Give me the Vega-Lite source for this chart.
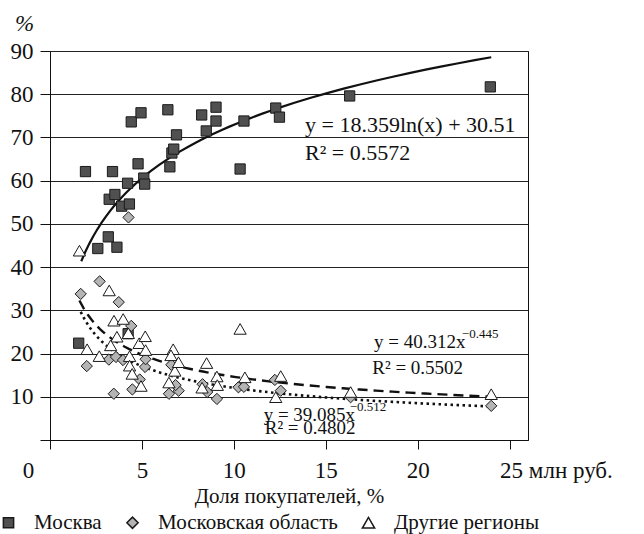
{
  "$schema": "https://vega.github.io/schema/vega-lite/v6.json",
  "width": 478,
  "height": 389,
  "autosize": "none",
  "padding": {"left": 50, "top": 51, "right": 116, "bottom": 94},
  "background": "white",
  "config": {
    "font": "Liberation Serif",
    "view": {"stroke": "#111", "strokeWidth": 1},
    "legend": {"labelFont": "Liberation Serif", "titleFont": "Liberation Serif"},
    "axis": {"labelFont": "Liberation Serif", "titleFont": "Liberation Serif", "labelColor": "#111", "titleColor": "#111", "domainColor": "#111", "tickColor": "#111", "gridColor": "#222", "titleFontWeight": "normal"}
  },
  "datasets": {
    "pts": [
      {"s": "Москва", "x": 1.93, "y": 62.1},
      {"s": "Москва", "x": 3.4, "y": 62.1},
      {"s": "Москва", "x": 2.6, "y": 44.3},
      {"s": "Москва", "x": 3.17, "y": 47.0},
      {"s": "Москва", "x": 3.64, "y": 44.6},
      {"s": "Москва", "x": 3.22, "y": 55.7},
      {"s": "Москва", "x": 3.53, "y": 56.8},
      {"s": "Москва", "x": 3.9, "y": 54.1},
      {"s": "Москва", "x": 4.32, "y": 54.6},
      {"s": "Москва", "x": 4.22, "y": 59.4},
      {"s": "Москва", "x": 4.42, "y": 73.6},
      {"s": "Москва", "x": 4.95, "y": 75.7},
      {"s": "Москва", "x": 4.79, "y": 63.9},
      {"s": "Москва", "x": 5.1, "y": 60.6},
      {"s": "Москва", "x": 5.15, "y": 59.2},
      {"s": "Москва", "x": 6.41, "y": 76.4},
      {"s": "Москва", "x": 6.52, "y": 63.2},
      {"s": "Москва", "x": 6.63, "y": 66.4},
      {"s": "Москва", "x": 6.73, "y": 67.3},
      {"s": "Москва", "x": 6.88, "y": 70.6},
      {"s": "Москва", "x": 8.25, "y": 75.2},
      {"s": "Москва", "x": 8.5, "y": 71.5},
      {"s": "Москва", "x": 9.03, "y": 77.0},
      {"s": "Москва", "x": 9.03, "y": 73.8},
      {"s": "Москва", "x": 10.55, "y": 73.8},
      {"s": "Москва", "x": 10.34, "y": 62.7},
      {"s": "Москва", "x": 12.28, "y": 76.8},
      {"s": "Москва", "x": 12.48, "y": 74.7},
      {"s": "Москва", "x": 16.3, "y": 79.6},
      {"s": "Москва", "x": 23.95, "y": 81.7},
      {"s": "Москва", "x": 1.56, "y": 22.4},
      {"s": "Москва", "x": 4.25, "y": 24.6},
      {"s": "Московская область", "x": 1.67, "y": 33.8},
      {"s": "Московская область", "x": 2.7, "y": 36.7},
      {"s": "Московская область", "x": 3.74, "y": 31.9},
      {"s": "Московская область", "x": 2.0, "y": 17.1},
      {"s": "Московская область", "x": 3.2, "y": 18.6},
      {"s": "Московская область", "x": 3.59, "y": 19.2},
      {"s": "Московская область", "x": 3.97, "y": 18.5},
      {"s": "Московская область", "x": 4.42, "y": 26.4},
      {"s": "Московская область", "x": 3.47, "y": 10.7},
      {"s": "Московская область", "x": 4.48, "y": 11.7},
      {"s": "Московская область", "x": 4.88, "y": 14.0},
      {"s": "Московская область", "x": 5.17, "y": 16.9},
      {"s": "Московская область", "x": 5.2, "y": 18.7},
      {"s": "Московская область", "x": 6.47, "y": 10.7},
      {"s": "Московская область", "x": 6.6, "y": 17.4},
      {"s": "Московская область", "x": 7.0, "y": 11.4},
      {"s": "Московская область", "x": 6.83, "y": 12.7},
      {"s": "Московская область", "x": 8.3, "y": 12.9},
      {"s": "Московская область", "x": 8.55, "y": 11.1},
      {"s": "Московская область", "x": 9.08, "y": 9.5},
      {"s": "Московская область", "x": 4.27, "y": 51.5},
      {"s": "Московская область", "x": 10.25, "y": 12.2},
      {"s": "Московская область", "x": 10.55, "y": 12.3},
      {"s": "Московская область", "x": 12.23, "y": 13.9},
      {"s": "Московская область", "x": 12.55, "y": 11.4},
      {"s": "Московская область", "x": 16.35, "y": 9.9},
      {"s": "Московская область", "x": 24.0, "y": 7.9},
      {"s": "Другие регионы", "x": 1.6, "y": 43.8},
      {"s": "Другие регионы", "x": 2.02, "y": 21.0},
      {"s": "Другие регионы", "x": 2.68, "y": 19.4},
      {"s": "Другие регионы", "x": 3.22, "y": 34.6},
      {"s": "Другие регионы", "x": 3.48, "y": 27.6},
      {"s": "Другие регионы", "x": 3.98, "y": 28.0},
      {"s": "Другие регионы", "x": 3.64, "y": 23.9},
      {"s": "Другие регионы", "x": 3.3, "y": 21.9},
      {"s": "Другие регионы", "x": 4.26, "y": 24.7},
      {"s": "Другие регионы", "x": 4.33, "y": 19.4},
      {"s": "Другие регионы", "x": 4.33, "y": 17.2},
      {"s": "Другие регионы", "x": 4.47, "y": 15.3},
      {"s": "Другие регионы", "x": 4.95, "y": 12.5},
      {"s": "Другие регионы", "x": 4.85, "y": 22.4},
      {"s": "Другие регионы", "x": 5.18, "y": 24.0},
      {"s": "Другие регионы", "x": 5.2, "y": 20.8},
      {"s": "Другие регионы", "x": 6.7, "y": 21.0},
      {"s": "Другие регионы", "x": 6.58, "y": 19.6},
      {"s": "Другие регионы", "x": 6.79, "y": 16.0},
      {"s": "Другие регионы", "x": 6.99, "y": 18.0},
      {"s": "Другие регионы", "x": 6.47, "y": 13.3},
      {"s": "Другие регионы", "x": 8.52, "y": 17.8},
      {"s": "Другие регионы", "x": 8.27, "y": 12.1},
      {"s": "Другие регионы", "x": 9.08, "y": 14.7},
      {"s": "Другие регионы", "x": 9.1, "y": 12.7},
      {"s": "Другие регионы", "x": 10.34, "y": 25.7},
      {"s": "Другие регионы", "x": 10.6, "y": 14.5},
      {"s": "Другие регионы", "x": 12.55, "y": 14.8},
      {"s": "Другие регионы", "x": 12.28, "y": 9.9},
      {"s": "Другие регионы", "x": 16.35, "y": 11.1},
      {"s": "Другие регионы", "x": 24.0, "y": 10.6}
    ],
    "notes": [
      {"k": "big", "t": "y = 18.359ln(x) + 30.51", "x": 13.87, "y": 72.9},
      {"k": "big", "t": "R² = 0.5572", "x": 13.87, "y": 66.4},
      {"k": "mid", "t": "y = 40.312x", "x": 17.63, "y": 22.7},
      {"k": "mid", "t": "R² = 0.5502", "x": 17.53, "y": 16.7},
      {"k": "mid", "t": "y = 39.085x", "x": 11.62, "y": 5.8},
      {"k": "mid", "t": "R² = 0.4802", "x": 11.68, "y": 2.8},
      {"k": "sup", "t": "−0.445", "x": 22.4, "y": 24.5},
      {"k": "sup", "t": "−0.512", "x": 16.3, "y": 7.6}
    ]
  },
  "layer": [
    {
      "data": {"name": "pts"},
      "transform": [
        {"filter": "datum.s == 'Москва'"},
        {"regression": "y", "on": "x", "method": "log", "extent": [1.7, 24]}
      ],
      "mark": {"type": "line", "color": "#111", "strokeWidth": 2.2},
      "encoding": {
        "x": {"field": "x", "type": "quantitative", "scale": {"domain": [0, 25]},
          "axis": {"values": [0, 5, 10, 15, 20, 25], "title": "Доля покупателей, %", "titleFont": "Liberation Serif", "labelFont": "Liberation Serif", "titleFontSize": 21, "titleY": 56, "titleBaseline": "middle", "labelFontSize": 23, "tickSize": 9, "labelPadding": 10, "grid": false, "labelLimit": 300,
            "labelExpr": "datum.value == 25 ? '25 млн руб.' : datum.label",
            "labelAlign": {"condition": {"test": "datum.value == 25", "value": "left"}, "value": "center"},
            "labelOffset": {"condition": [{"test": "datum.value == 25", "value": -10}, {"test": "datum.value == 0", "value": -22}], "value": 0}}},
        "y": {"field": "y", "type": "quantitative", "scale": {"domain": [0, 90]},
          "axis": {"values": [0, 10, 20, 30, 40, 50, 60, 70, 80, 90], "title": "%", "titleFont": "Liberation Serif", "labelFont": "Liberation Serif", "titleAngle": 0, "titleFontStyle": "italic", "titleFontSize": 23, "titleX": -26, "titleY": -28, "titleAlign": "center", "titleBaseline": "middle", "labelFontSize": 23, "tickSize": 10, "labelPadding": 7, "grid": true, "gridWidth": 1,
            "labelExpr": "datum.value == 0 ? '' : datum.label"}}
      }
    },
    {
      "data": {"name": "pts"},
      "transform": [
        {"filter": "datum.s == 'Другие регионы'"},
        {"regression": "y", "on": "x", "method": "pow", "extent": [1.6, 24]}
      ],
      "mark": {"type": "line", "color": "#111", "strokeWidth": 2.4, "strokeDash": [10, 6]},
      "encoding": {"x": {"field": "x", "type": "quantitative"}, "y": {"field": "y", "type": "quantitative"}}
    },
    {
      "data": {"name": "pts"},
      "transform": [
        {"filter": "datum.s == 'Московская область'"},
        {"regression": "y", "on": "x", "method": "pow", "extent": [1.67, 24]}
      ],
      "mark": {"type": "line", "color": "#111", "strokeWidth": 2.6, "strokeDash": [2.5, 3.5]},
      "encoding": {"x": {"field": "x", "type": "quantitative"}, "y": {"field": "y", "type": "quantitative"}}
    },
    {
      "data": {"name": "pts"},
      "mark": {"type": "point", "filled": true, "stroke": "#1a1a1a", "strokeWidth": 1, "opacity": 1},
      "encoding": {
        "x": {"field": "x", "type": "quantitative"},
        "y": {"field": "y", "type": "quantitative"},
        "color": {"field": "s", "type": "nominal", "sort": ["Москва", "Московская область", "Другие регионы"], "title": null,
          "scale": {"domain": ["Москва", "Московская область", "Другие регионы"], "range": ["#505050", "#b4b4b4", "#ffffff"]},
          "legend": {"orient": "none", "legendX": -52, "legendY": 461, "padding": 0, "direction": "horizontal", "labelFont": "Liberation Serif", "labelFontSize": 21, "labelColor": "#111", "labelLimit": 400, "symbolSize": 70, "labelOffset": 15, "columnPadding": 20, "symbolOpacity": 1,
            "encode": {"symbols": {"update": {"stroke": {"value": "#1a1a1a"}, "strokeWidth": {"value": 1}}}}}},
        "shape": {"field": "s", "type": "nominal", "sort": ["Москва", "Московская область", "Другие регионы"], "title": null,
          "scale": {"domain": ["Москва", "Московская область", "Другие регионы"], "range": ["square", "diamond", "triangle-up"]},
          "legend": {"orient": "none", "legendX": -52, "legendY": 461, "padding": 0, "direction": "horizontal", "labelFont": "Liberation Serif", "labelFontSize": 21, "labelColor": "#111", "labelLimit": 400, "symbolSize": 70, "labelOffset": 15, "columnPadding": 20, "symbolOpacity": 1,
            "encode": {"symbols": {"update": {"stroke": {"value": "#1a1a1a"}, "strokeWidth": {"value": 1}}}}}},
        "size": {"field": "s", "type": "nominal", "legend": null,
          "scale": {"domain": ["Москва", "Московская область", "Другие регионы"], "range": [105, 150, 150]}}
      }
    },
    {
      "data": {"name": "notes"},
      "transform": [{"filter": "datum.k == 'big'"}],
      "mark": {"type": "text", "align": "left", "baseline": "middle", "fontSize": 22, "font": "Liberation Serif", "color": "#111"},
      "encoding": {"x": {"field": "x", "type": "quantitative"}, "y": {"field": "y", "type": "quantitative"}, "text": {"field": "t"}}
    },
    {
      "data": {"name": "notes"},
      "transform": [{"filter": "datum.k == 'mid'"}],
      "mark": {"type": "text", "align": "left", "baseline": "middle", "fontSize": 19, "font": "Liberation Serif", "color": "#111"},
      "encoding": {"x": {"field": "x", "type": "quantitative"}, "y": {"field": "y", "type": "quantitative"}, "text": {"field": "t"}}
    },
    {
      "data": {"name": "notes"},
      "transform": [{"filter": "datum.k == 'sup'"}],
      "mark": {"type": "text", "align": "left", "baseline": "middle", "fontSize": 13, "font": "Liberation Serif", "color": "#111"},
      "encoding": {"x": {"field": "x", "type": "quantitative"}, "y": {"field": "y", "type": "quantitative"}, "text": {"field": "t"}}
    }
  ]
}
